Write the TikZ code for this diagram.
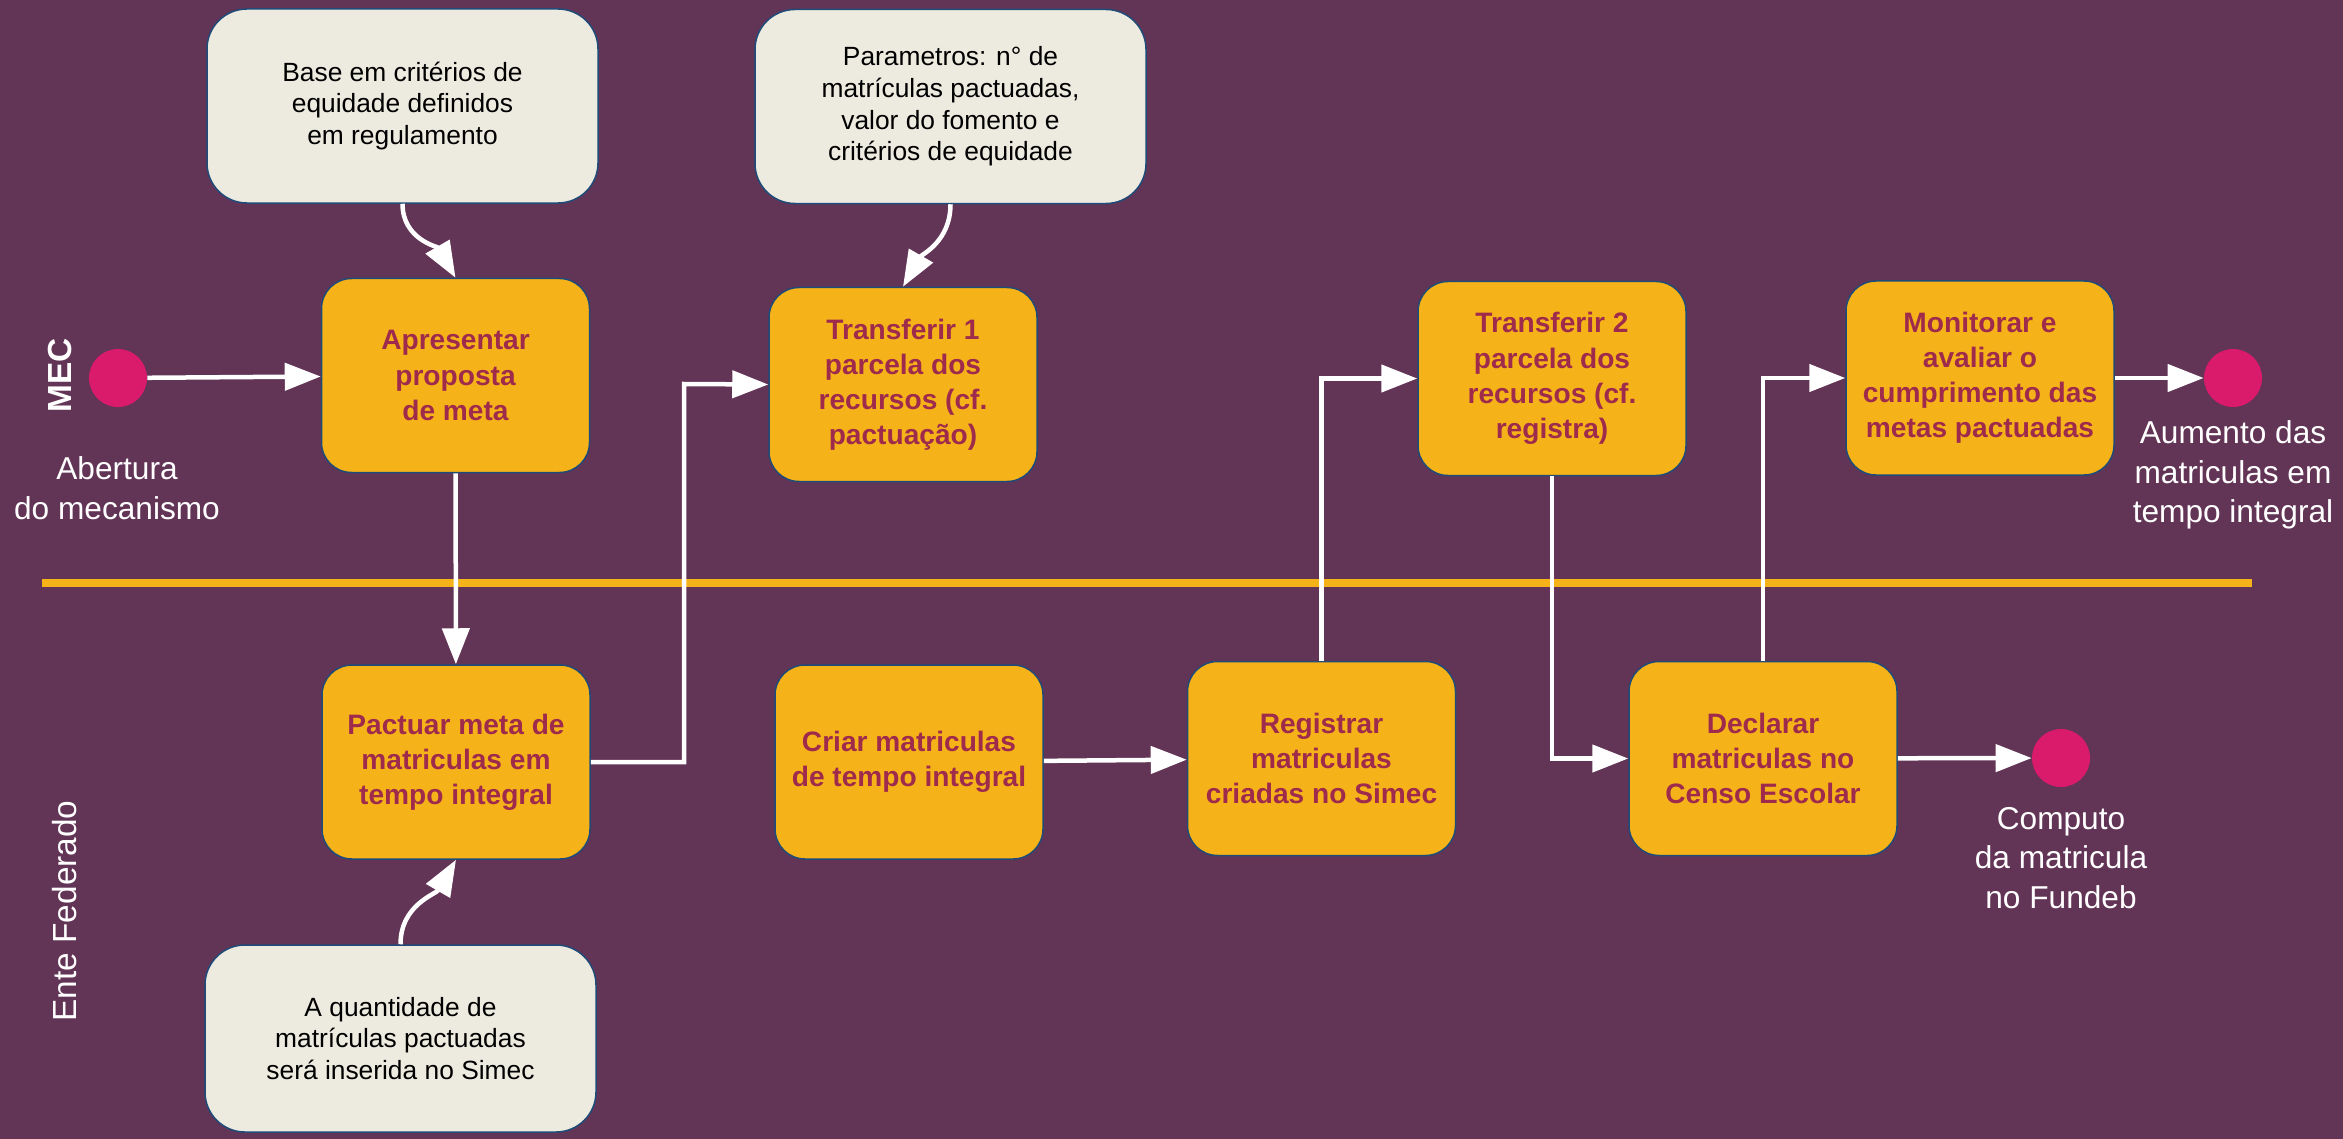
\documentclass[tikz,border=0pt]{standalone}
\usepackage{fontspec}
\setmainfont{Liberation Sans}
\usetikzlibrary{arrows.meta}
\definecolor{fundo}{HTML}{623456}
\definecolor{ouro}{HTML}{F6B319}
\definecolor{vinho}{HTML}{9E2B4C}
\definecolor{creme}{HTML}{EDEBE0}
\definecolor{borda}{HTML}{1F4B78}
\definecolor{rosa}{HTML}{DA1A6B}
\begin{document}
\begin{tikzpicture}[x=0.2mm, y=-0.2mm,
  etapa/.style={rectangle, rounded corners=6mm, draw=borda, line width=0.3mm, fill=ouro, text=vinho, font=\fontsize{16}{20}\selectfont\bfseries, align=center, minimum width=53.6mm, minimum height=38.8mm},
  nota/.style={rectangle, rounded corners=8mm, draw=borda, line width=0.3mm, fill=creme, text=black, font=\fontsize{15}{18}\selectfont, align=center, minimum width=78.2mm, minimum height=38.8mm},
  ponto/.style={circle, fill=rosa, minimum size=11.6mm, inner sep=0pt},
  rotulo/.style={text=white, align=center, font=\fontsize{18}{22.5}\selectfont},
  seta/.style={draw=white, line width=0.9mm, -{Triangle[length=7.2mm,width=5.4mm]}},
]
\fill[fundo] (0,0) rectangle (2343,1139);
\useasboundingbox (0,0) rectangle (2343,1139);
\draw[ouro, line width=1.6mm] (42,583) -- (2252,583);
\node[rotulo, rotate=90, font=\fontsize{19}{23}\selectfont\bfseries] (mec) at (60,375) {MEC};
\node[rotulo, rotate=90, font=\fontsize{19}{23}\selectfont] (ente) at (65,911) {Ente Federado};
\node[nota] (base) at (402.5,106) {Base em critérios de\\equidade definidos\\em regulamento};
\node[nota] (param) at (950.5,106.5) {Parametros: n° de\\matrículas pactuadas,\\valor do fomento e\\critérios de equidade};
\node[nota, minimum height=37.4mm] (qtd) at (400.5,1038.5) {A quantidade de\\matrículas pactuadas\\será inserida no Simec};
\node[ponto] (inicio) at (118,378) {};
\node[rotulo] (abertura) at (117,488) {Abertura\\do mecanismo};
\node[etapa] (apres) at (455.5,375.5) {Apresentar\\proposta\\de meta};
\node[etapa] (pact) at (456,762) {Pactuar meta de\\matriculas em\\tempo integral};
\node[etapa] (transf1) at (903,384.5) {Transferir 1\\parcela dos\\recursos (cf.\\pactuação)};
\node[etapa] (criar) at (909,762) {Criar matriculas\\de tempo integral};
\node[etapa] (regist) at (1321.5,758.5) {Registrar\\matriculas\\criadas no Simec};
\node[etapa] (transf2) at (1552,378.5) {Transferir 2\\parcela dos\\recursos (cf.\\registra)};
\node[etapa] (declar) at (1763,758.5) {Declarar\\matriculas no\\Censo Escolar};
\node[etapa] (monit) at (1980,378) {Monitorar e\\avaliar o\\cumprimento das\\metas pactuadas};
\node[ponto] (fim1) at (2233,378) {};
\node[rotulo] (aumento) at (2233,475) {Aumento das\\matriculas em\\tempo integral};
\node[ponto] (fim2) at (2061,758) {};
\node[rotulo] (computo) at (2061,858) {Computo\\da matricula\\no Fundeb};
\draw[seta] (inicio) -- (apres);
\draw[seta] (base.south) to[out=-90, in=120] (apres.north);
\draw[seta] (param.south) to[out=-90, in=60] (transf1.north);
\draw[seta] (qtd.north) to[out=90, in=-120] (pact.south);
\draw[seta] (apres) -- (pact);
\draw[seta] (pact.east) -| (684,384) -- (transf1.west);
\draw[seta] (criar) -- (regist);
\draw[seta] (regist.north) |- (transf2.west);
\draw[seta] (transf2.south) |- (declar.west);
\draw[seta] (declar.north) |- (monit.west);
\draw[seta] (monit) -- (fim1);
\draw[seta] (declar) -- (fim2);
\end{tikzpicture}
\end{document}
